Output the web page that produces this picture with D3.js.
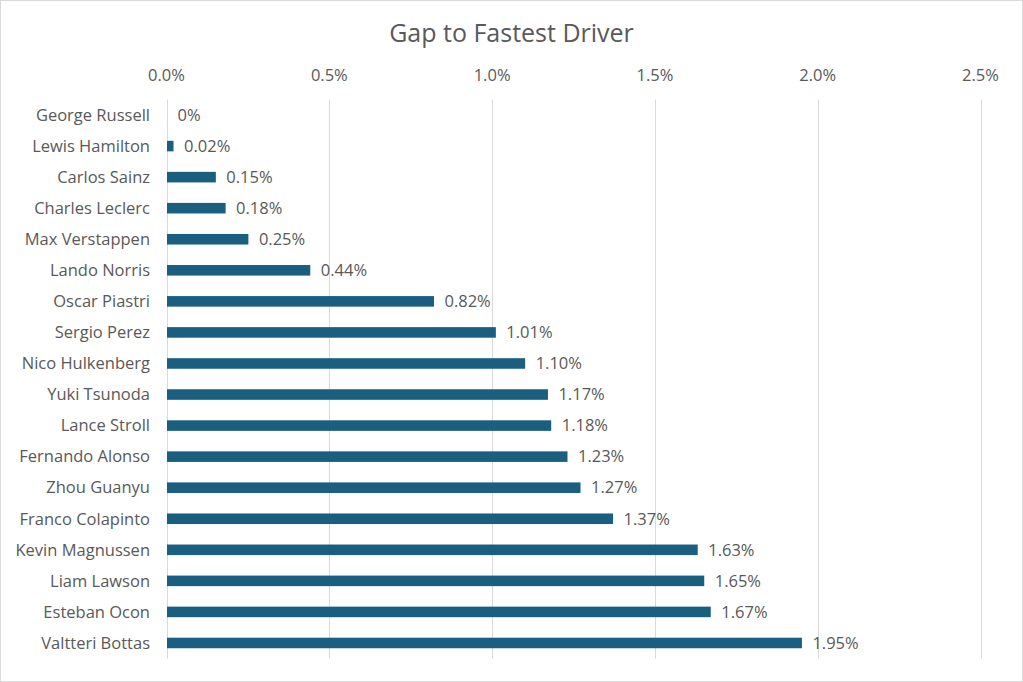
<!DOCTYPE html>
<html>
<head>
<meta charset="utf-8">
<script src="https://cdn.jsdelivr.net/npm/d3@7"></script>
<style>
  html, body { margin: 0; padding: 0; background: #fff; }
  svg text { font-family: "Open Sans", "Liberation Sans", sans-serif; fill: #595959; }
</style>
</head>
<body>
<div id="chart"></div>
<script>
// data
const drivers = ["George Russell", "Lewis Hamilton", "Carlos Sainz", "Charles Leclerc", "Max Verstappen",
  "Lando Norris", "Oscar Piastri", "Sergio Perez", "Nico Hulkenberg", "Yuki Tsunoda", "Lance Stroll",
  "Fernando Alonso", "Zhou Guanyu", "Franco Colapinto", "Kevin Magnussen", "Liam Lawson",
  "Esteban Ocon", "Valtteri Bottas"];
const gaps = [0, 0.0002, 0.0015, 0.0018, 0.0025, 0.0044, 0.0082, 0.0101, 0.0110, 0.0117, 0.0118,
  0.0123, 0.0127, 0.0137, 0.0163, 0.0165, 0.0167, 0.0195];
const xTicks = [0, 0.005, 0.01, 0.015, 0.02, 0.025];

const width = 1023, height = 682;
const margin = { top: 99.5, right: 42.5, bottom: 23.5, left: 166.5 };

const svg = d3.select('#chart').append('svg')
  .attr('width', width)
  .attr('height', height);

svg.append('rect')
  .attr('x', 0.5).attr('y', 0.5)
  .attr('width', width - 1).attr('height', height - 1)
  .attr('fill', '#fff')
  .attr('stroke', '#d9d9d9');

const x = d3.scaleLinear()
  .domain([0, 0.025])
  .range([margin.left, width - margin.right]);

const y = d3.scaleBand()
  .domain(drivers)
  .range([margin.top, height - margin.bottom])
  .paddingInner(0.66)
  .paddingOuter(0.33);

// gridlines
svg.append('g')
  .selectAll('line')
  .data(xTicks)
  .join('line')
  .attr('x1', d => Math.round(x(d)) + 0.5)
  .attr('x2', d => Math.round(x(d)) + 0.5)
  .attr('y1', margin.top)
  .attr('y2', height - margin.bottom)
  .attr('stroke', '#d9d9d9')
  .attr('stroke-width', 1);

// top axis labels
svg.append('g')
  .selectAll('text')
  .data(xTicks)
  .join('text')
  .attr('x', d => x(d))
  .attr('y', 75)
  .attr('dy', '0.35em')
  .attr('text-anchor', 'middle')
  .attr('font-size', 16.5)
  .text(d => d3.format('.1%')(d));

// category labels
svg.append('g')
  .selectAll('text')
  .data(drivers)
  .join('text')
  .attr('x', 150)
  .attr('y', d => y(d) + y.bandwidth() / 2)
  .attr('dy', '0.35em')
  .attr('text-anchor', 'end')
  .attr('font-size', 16.5)
  .text(d => d);

// bars
svg.append('g')
  .selectAll('rect')
  .data(drivers)
  .join('rect')
  .attr('x', x(0) + 0.5)
  .attr('y', d => y(d))
  .attr('width', (d, i) => Math.max(0, x(gaps[i]) - x(0)))
  .attr('height', y.bandwidth())
  .attr('fill', '#1a5e80');

// value labels
svg.append('g')
  .selectAll('text')
  .data(drivers)
  .join('text')
  .attr('x', (d, i) => x(gaps[i]) + 11)
  .attr('y', d => y(d) + y.bandwidth() / 2)
  .attr('dy', '0.35em')
  .attr('font-size', 16.5)
  .text((d, i) => gaps[i] === 0 ? '0%' : d3.format('.2%')(gaps[i]));

// title
svg.append('text')
  .attr('x', width / 2)
  .attr('y', 33)
  .attr('dy', '0.35em')
  .attr('text-anchor', 'middle')
  .attr('font-size', 25)
  .text('Gap to Fastest Driver');
</script>
</body>
</html>
